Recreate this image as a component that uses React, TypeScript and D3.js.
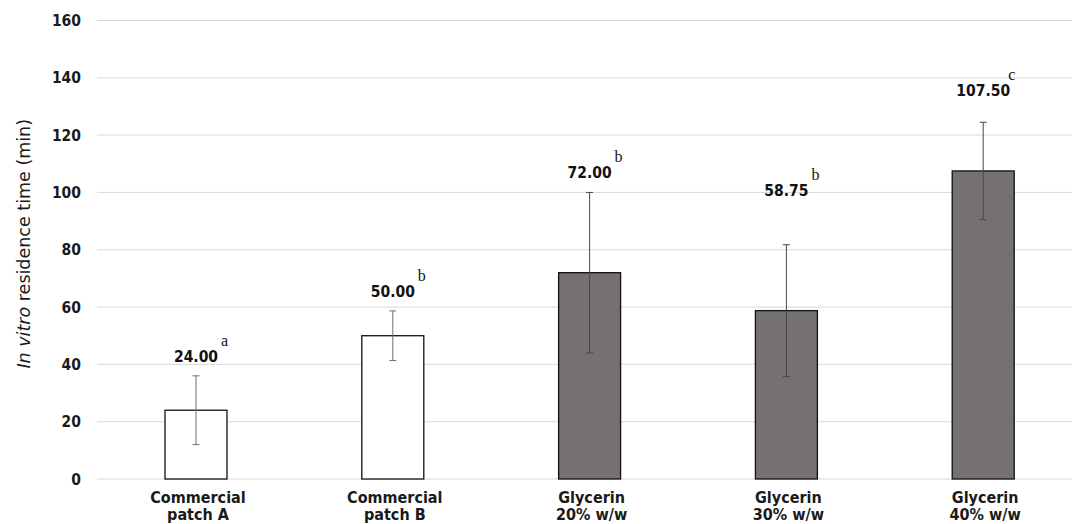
import React from "react";
import * as d3 from "d3";

// Residence time per formulation (mean ± SD, min)
const categories = ["Commercial patch A", "Commercial patch B", "Glycerin 20% w/w", "Glycerin 30% w/w", "Glycerin 40% w/w"];
const categoryLines = [
  ["Commercial", "patch A"],
  ["Commercial", "patch B"],
  ["Glycerin", "20% w/w"],
  ["Glycerin", "30% w/w"],
  ["Glycerin", "40% w/w"],
];
const means = [24.0, 50.0, 72.0, 58.75, 107.5];
const sds = [12, 8.66, 28, 23, 17];
const groups = ["a", "b", "b", "b", "c"];
const commercial = [true, true, false, false, false];
const yTicks = [0, 20, 40, 60, 80, 100, 120, 140, 160];

// Vertical lift (px) of each value label above its error-bar cap
const labelLift = [14, 14, 14, 49, 26];

const W = 1072;
const H = 524;
const boldFont = "'DejaVu Sans Condensed', 'DejaVu Sans', sans-serif";

export default function App() {
  const x = d3
    .scaleBand<string>()
    .domain(categories)
    .range([97.6, 1081.6])
    .paddingInner(0.685)
    .paddingOuter(0.3425);
  const y = d3.scaleLinear().domain([0, 160]).range([479, 20.5]);
  const bw = x.bandwidth();

  return (
    <svg
      width={W}
      height={H}
      style={{ position: "absolute", left: 0, top: 0, background: "#fff" }}
    >
      <rect width={W} height={H} fill="#fff" />
      {/* grid + y tick labels */}
      {yTicks.map((t) => (
        <g key={t}>
          <line x1={97} x2={W} y1={y(t)} y2={y(t)} stroke="#d9d9d9" strokeWidth={1} />
          <text
            x={81}
            y={y(t)}
            dy="0.36em"
            textAnchor="end"
            fontFamily={boldFont}
            fontWeight="bold"
            fontSize={15.5}
            fill="#1a1a1a"
          >
            {t}
          </text>
        </g>
      ))}

      {/* axis title */}
      <text
        transform={`translate(30,${(y(0) + y(160)) / 2 - 6}) rotate(-90)`}
        textAnchor="middle"
        fontFamily="'DejaVu Sans', sans-serif"
        fontSize={17.5}
        fill="#1a1a1a"
      >
        <tspan fontStyle="italic">In vitro</tspan> residence time (min)
      </text>

      {/* bars, error bars, labels */}
      {categories.map((c, i) => {
        const x0 = x(c)!;
        const cx = x0 + bw / 2;
        const top = y(means[i] + sds[i]);
        const bot = y(means[i] - sds[i]);
        const labelY = top - labelLift[i];
        const errColor = commercial[i] ? "#707070" : "#4a4646";
        return (
          <g key={c}>
            <rect
              x={x0}
              y={y(means[i])}
              width={bw}
              height={y(0) - y(means[i])}
              fill={commercial[i] ? "#ffffff" : "#767171"}
              stroke="#111"
              strokeWidth={1.3}
            />
            <line x1={cx} x2={cx} y1={top} y2={bot} stroke={errColor} strokeWidth={1} />
            <line x1={cx - 3.5} x2={cx + 3.5} y1={top} y2={top} stroke={errColor} strokeWidth={1} />
            <line x1={cx - 3.5} x2={cx + 3.5} y1={bot} y2={bot} stroke={errColor} strokeWidth={1} />
            <text
              x={cx}
              y={labelY}
              textAnchor="middle"
              fontFamily={boldFont}
              fontWeight="bold"
              fontSize={15.5}
              fill="#111"
            >
              {means[i].toFixed(2)}
            </text>
            <text
              x={cx + 25}
              y={labelY - 16}
              fontFamily="'Liberation Serif', 'Times New Roman', serif"
              fontSize={16}
              fill="#111"
            >
              {groups[i]}
            </text>
            <text
              textAnchor="middle"
              fontFamily={boldFont}
              fontWeight="bold"
              fontSize={16}
              fill="#1a1a1a"
            >
              <tspan x={cx + 2} y={503}>{categoryLines[i][0]}</tspan>
              <tspan x={cx + 2} y={520}>{categoryLines[i][1]}</tspan>
            </text>
          </g>
        );
      })}
    </svg>
  );
}
